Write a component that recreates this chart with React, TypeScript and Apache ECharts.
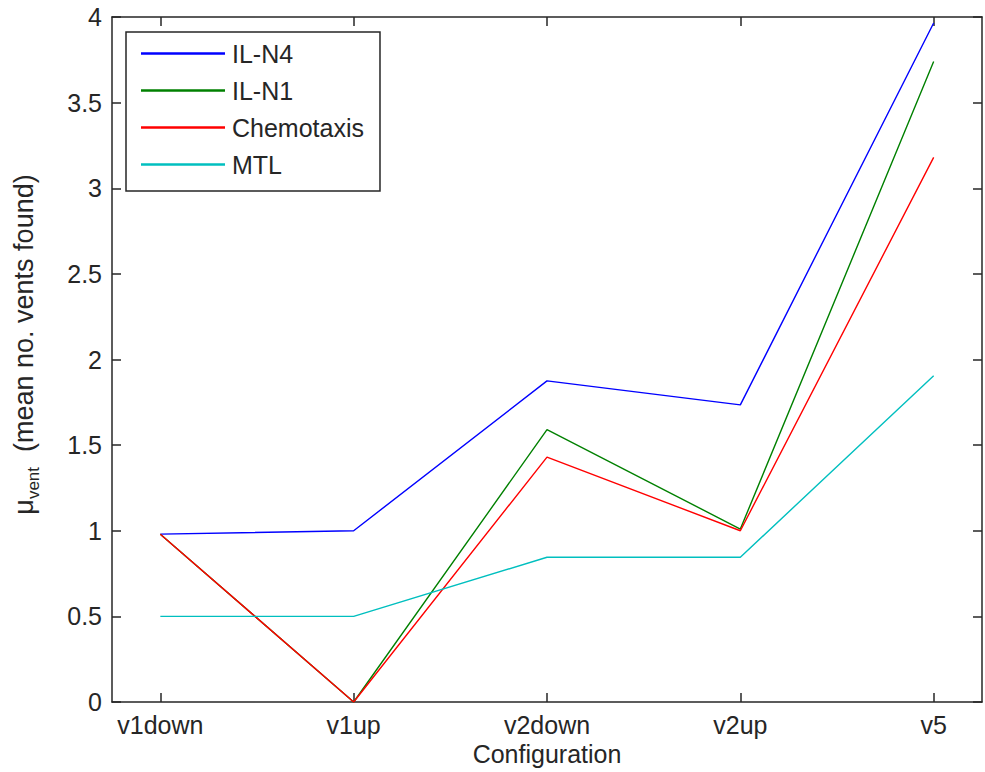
import React, { useEffect, useRef } from "react";
import * as echarts from "echarts";

const categories = ["v1down", "v1up", "v2down", "v2up", "v5"];
const ilN4 = [0.98, 1.0, 1.875, 1.735, 3.965];
const ilN1 = [0.98, 0.0, 1.59, 1.01, 3.74];
const chemotaxis = [0.98, 0.0, 1.43, 1.0, 3.18];
const mtl = [0.5, 0.5, 0.845, 0.845, 1.905];
const yTicks = [0, 0.5, 1, 1.5, 2, 2.5, 3, 3.5, 4];

const FONT = "'Liberation Sans', Arial, sans-serif";
const INK = "#262626";
const FS = 25;

export default function App() {
  const ref = useRef<HTMLDivElement>(null);
  useEffect(() => {
    if (!ref.current) return;
    const chart = echarts.init(ref.current, undefined, { renderer: "svg" });
    const xs = categories.map((_, i) => i + 1);
    const toPts = (v: number[]) => v.map((y, i) => [xs[i], y]);
    const mk = (name: string, v: number[], color: string) => ({
      name,
      type: "line",
      data: toPts(v),
      symbol: "none",
      showSymbol: false,
      lineStyle: { color, width: 1.4 },
      itemStyle: { color },
      emphasis: { disabled: true },
    });
    const xBase = {
      type: "value",
      min: 0.75,
      max: 5.25,
      splitLine: { show: false },
      axisLine: { show: true, onZero: false, lineStyle: { color: INK, width: 1.5 } },
      axisTick: { show: true, inside: true, length: 9, customValues: xs, lineStyle: { color: INK, width: 1.5 } },
    };
    const yBase = {
      type: "value",
      min: 0,
      max: 4,
      interval: 0.5,
      splitLine: { show: false },
      axisLine: { show: true, onZero: false, lineStyle: { color: INK, width: 1.5 } },
      axisTick: { show: true, inside: true, length: 9, lineStyle: { color: INK, width: 1.5 } },
    };
    chart.setOption({
      animation: false,
      backgroundColor: "#ffffff",
      textStyle: { fontFamily: FONT },
      grid: { left: 112, top: 17, right: 3, bottom: 70, containLabel: false },
      legend: {
        show: true,
        orient: "vertical",
        left: 126,
        top: 32,
        data: ["IL-N4", "IL-N1", "Chemotaxis", "MTL"].map((n) => ({ name: n, icon: "rect" })),
        itemWidth: 84,
        itemHeight: 2.5,
        itemGap: 12,
        padding: [9, 16, 14, 15],
        borderColor: INK,
        borderWidth: 1.5,
        backgroundColor: "#ffffff",
        selectedMode: false,
        textStyle: { fontFamily: FONT, fontSize: FS, color: INK, padding: [0, 0, 0, 2] },
      },
      xAxis: [
        {
          ...xBase,
          position: "bottom",
          name: "Configuration",
          nameLocation: "middle",
          nameGap: 35,
          nameTextStyle: { fontFamily: FONT, fontSize: FS, color: INK },
          axisLabel: {
            show: true,
            customValues: xs,
            margin: 10,
            fontFamily: FONT,
            fontSize: FS,
            color: INK,
            formatter: (v: number) => categories[Math.round(v) - 1] ?? "",
          },
        },
        { ...xBase, position: "top", axisLabel: { show: false } },
      ],
      yAxis: [
        {
          ...yBase,
          position: "left",
          name: "{s| }{a|μ}{b|vent}{a|  (mean no. vents found)}",
          nameLocation: "middle",
          nameGap: 70,
          nameTextStyle: {
            fontFamily: FONT,
            fontSize: 27,
            color: INK,
            rich: {
              s: { fontSize: 27, width: 30, lineHeight: 32 },
              a: { fontFamily: FONT, fontSize: 27, color: INK, lineHeight: 32, verticalAlign: "top" },
              b: { fontFamily: FONT, fontSize: 17, color: INK, lineHeight: 32, verticalAlign: "bottom" },
            },
          },
          axisLabel: {
            show: true,
            margin: 10,
            fontFamily: FONT,
            fontSize: FS,
            color: INK,
            formatter: (v: number) => (yTicks.includes(v) ? String(v) : ""),
          },
        },
        { ...yBase, position: "right", axisLabel: { show: false } },
      ],
      series: [
        mk("IL-N4", ilN4, "#0000ff"),
        mk("IL-N1", ilN1, "#008000"),
        mk("Chemotaxis", chemotaxis, "#ff0000"),
        mk("MTL", mtl, "#00bfbf"),
      ],
    });
    return () => chart.dispose();
  }, []);
  return <div ref={ref} style={{ width: 985, height: 772, position: "absolute", left: 0, top: 0 }} />;
}
